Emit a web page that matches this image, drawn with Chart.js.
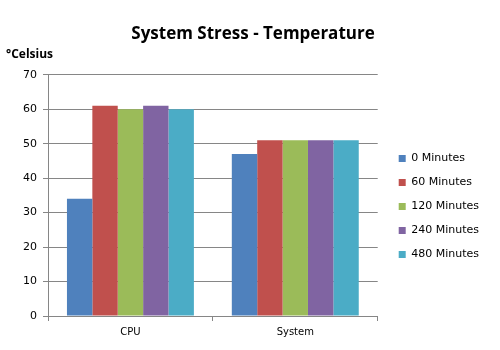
<!DOCTYPE html>
<html>
<head>
<meta charset="utf-8">
<script src="https://cdn.jsdelivr.net/npm/chart.js@4"></script>
<style>
html,body{margin:0;padding:0;background:#fff;}
#wrap{width:500px;height:350px;position:relative;}
</style>
</head>
<body>
<div id="wrap"><canvas id="chart"></canvas></div>
<script>
const CATEGORIES = ["CPU", "System"];
const SERIES = ["0 Minutes", "60 Minutes", "120 Minutes", "240 Minutes", "480 Minutes"];
const COLORS = ["#4F81BD", "#C0504D", "#9BBB59", "#8064A2", "#4BACC6"];
const M0 = [34, 47];
const M60 = [61, 51];
const M120 = [60, 51];
const M240 = [61, 51];
const M480 = [60, 51];

const VALUES = [M0, M60, M120, M240, M480];
const GRID = "#868686";

const datasets = SERIES.map((s, i) => ({
  label: s,
  data: VALUES[i],
  backgroundColor: COLORS[i],
  borderWidth: 0,
  barPercentage: 1,
  categoryPercentage: 0.77
}));

// widen the legend so the plot ends where the reference's does,
// and nudge its items to the reference's spot
const wideLegend = {
  id: "wideLegend",
  beforeInit(chart) {
    const lg = chart.legend;
    const fit = lg.fit, draw = lg.draw;
    lg.fit = function () { fit.call(this); this.width += 19; };
    lg.draw = function () {
      const ctx = this.ctx;
      ctx.save();
      ctx.translate(8, 23);
      draw.call(this);
      ctx.restore();
    };
  }
};

new Chart(document.getElementById("chart"), {
  type: "bar",
  data: {labels: CATEGORIES, datasets},
  plugins: [wideLegend],
  options: {
    responsive: true,
    maintainAspectRatio: false,
    animation: false,
    layout: {padding: {left: 6, right: 0, top: 24, bottom: 7}},
    plugins: {
      title: {
        display: true,
        text: "System Stress - Temperature",
        color: "#000",
        font: {family: "Open Sans", size: 17, weight: "bold"},
        padding: {top: 0, bottom: 3}
      },
      subtitle: {
        display: true,
        text: "°Celsius",
        align: "start",
        color: "#000",
        font: {family: "Open Sans", size: 12, weight: "bold"},
        padding: {top: 0, bottom: 13}
      },
      legend: {
        position: "right",
        labels: {
          boxWidth: 7,
          boxHeight: 7,
          padding: 13,
          color: "#000",
          font: {family: "DejaVu Sans", size: 11}
        }
      },
      tooltip: {enabled: false}
    },
    scales: {
      x: {
        grid: {drawOnChartArea: false, color: GRID, tickLength: 5, offset: true},
        border: {color: GRID},
        ticks: {color: "#000", font: {family: "DejaVu Sans", size: 10}, padding: 5}
      },
      y: {
        min: 0,
        max: 70,
        afterFit(s) { s.width = 42; },
        ticks: {stepSize: 10, color: "#000", font: {family: "DejaVu Sans", size: 11}, padding: 6},
        grid: {color: GRID, tickLength: 5},
        border: {color: GRID}
      }
    }
  }
});
</script>
</body>
</html>
